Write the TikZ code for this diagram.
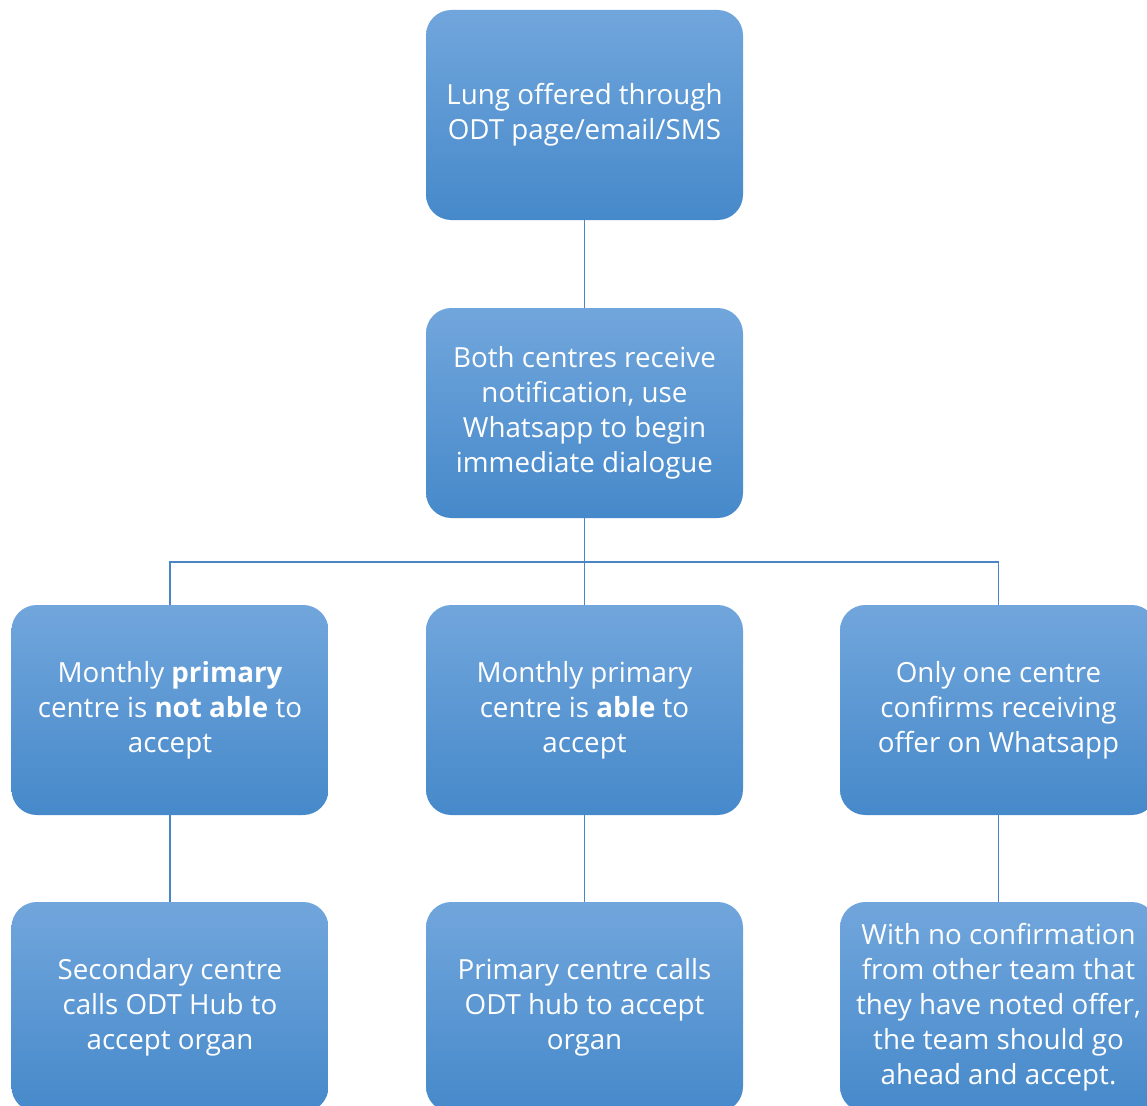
\documentclass[tikz,border=0pt]{standalone}
\usepackage{fontspec}
\setmainfont{Open Sans}
\definecolor{boxtop}{HTML}{71A6DC}
\definecolor{boxbot}{HTML}{4689CA}
\definecolor{linec}{HTML}{4A86C5}
\begin{document}
\begin{tikzpicture}[x=0.75pt,y=-0.75pt,
  box/.style={rectangle, rounded corners=19pt, draw=none,
    top color=boxtop, bottom color=boxbot,
    minimum width=237.75pt, minimum height=157.5pt,
    text=white, align=center, inner sep=0pt,
    font=\fontsize{20.8pt}{26.25pt}\selectfont},
  conn/.style={draw=linec, line width=1.1pt}]
\clip (0,0) rectangle (1147,1106);
\fill[white] (0,0) rectangle (1147,1106);
\node[box] (top) at (584.5,115) {Lung offered through\\ODT page/email/SMS};
\node[box] (both) at (584.5,413) {Both centres receive\\notification, use\\Whatsapp to begin\\immediate dialogue};
\node[box] (notable) at (170,710) {Monthly \textbf{primary}\\centre is \textbf{not able} to\\accept};
\node[box] (able) at (584.5,710) {Monthly primary\\centre is \textbf{able} to\\accept};
\node[box] (one) at (998.5,710) {Only one centre\\confirms receiving\\offer on Whatsapp};
\node[box] (sec) at (170,1007) {Secondary centre\\calls ODT Hub to\\accept organ};
\node[box] (prim) at (584.5,1007) {Primary centre calls\\ODT hub to accept\\organ};
\node[box] (noconf) at (998.5,1007) {With no confirmation\\from other team that\\they have noted offer,\\the team should go\\ahead and accept.};
\coordinate (bus) at (584.5,562);
\draw[conn] (top.south) -- (both.north);
\draw[conn] (both.south) -- (bus);
\draw[conn] (bus) -| (notable.north);
\draw[conn] (bus) -| (one.north);
\draw[conn] (bus) -- (able.north);
\draw[conn] (notable.south) -- (sec.north);
\draw[conn] (able.south) -- (prim.north);
\draw[conn] (one.south) -- (noconf.north);
\end{tikzpicture}
\end{document}
